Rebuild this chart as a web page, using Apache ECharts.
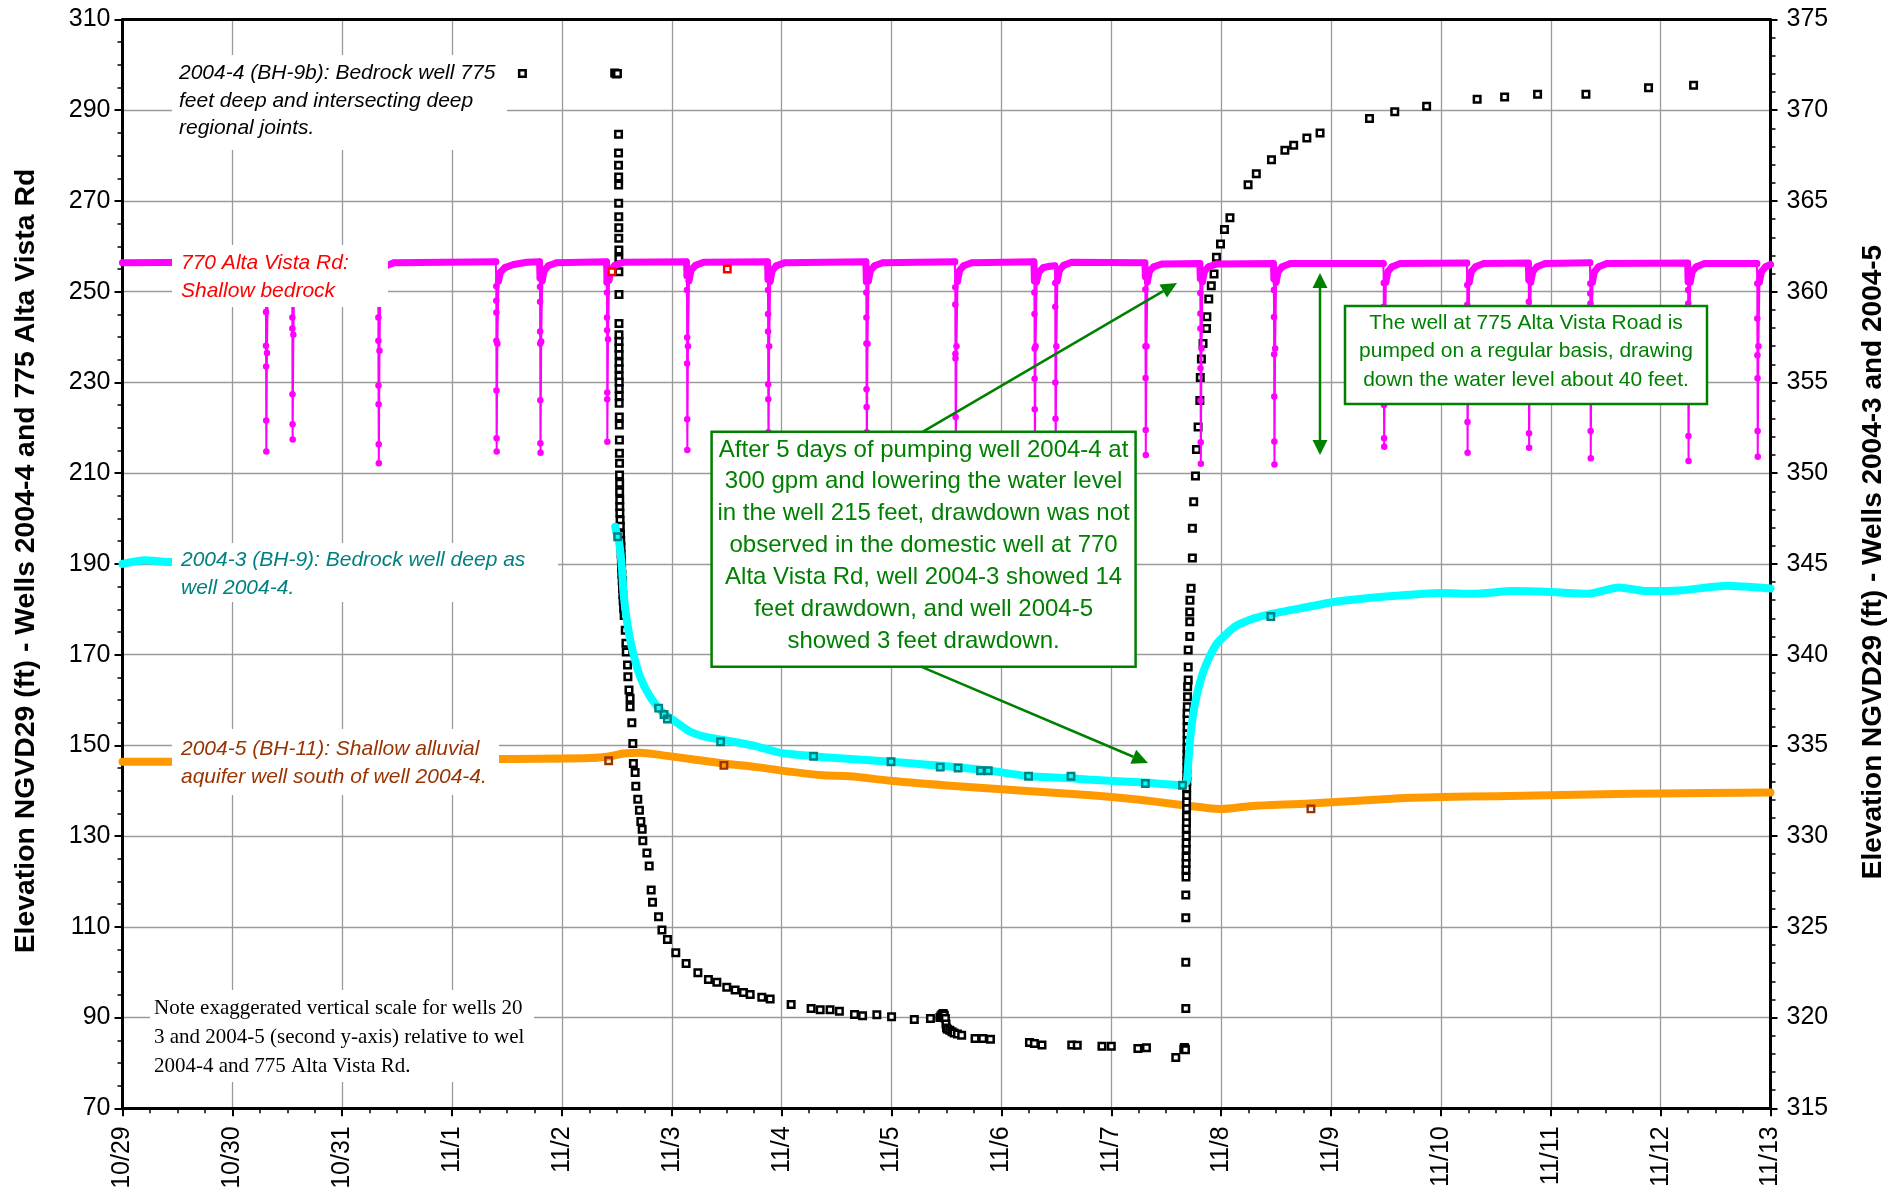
<!DOCTYPE html>
<html>
<head>
<meta charset="utf-8">
<script src="https://cdn.jsdelivr.net/npm/echarts@6/dist/echarts.min.js"></script>
<style>
html,body{margin:0;padding:0;background:#fff;}
#chart{width:1902px;height:1194px;}
</style>
</head>
<body>
<div id="chart"></div>
<script>
// Day labels along the bottom axis (x values are days after 10/29 00:00)
const dateLabels = ['10/29','10/30','10/31','11/1','11/2','11/3','11/4','11/5','11/6','11/7','11/8','11/9','11/10','11/11','11/12','11/13'];

// 2004-4 (BH-9b) water level, ft (left axis)
const well2004_4 = [
  [3.640, 298.1],
  [4.480, 298.2], [4.495, 298.0], [4.505, 298.1],
  [4.515, 284.7], [4.515, 280.6], [4.515, 277.9], [4.516, 275.3], [4.516, 273.5], [4.516, 269.5],
  [4.517, 266.5], [4.517, 264.1], [4.517, 261.8], [4.518, 259.2], [4.518, 257.3], [4.518, 254.4],
  [4.519, 249.4], [4.519, 243.0],
  [4.519, 240.5], [4.519, 239.0], [4.519, 237.6], [4.520, 236.1], [4.520, 234.4], [4.520, 233.0],
  [4.520, 231.4], [4.521, 230.1], [4.521, 228.6], [4.521, 227.0], [4.521, 225.4],
  [4.522, 222.4], [4.522, 220.6], [4.523, 217.3], [4.523, 214.4], [4.524, 212.2], [4.524, 209.6],
  [4.525, 207.8], [4.525, 205.9], [4.526, 204.1], [4.526, 202.6],
  [4.527, 201.2], [4.529, 199.6], [4.531, 198.3], [4.533, 196.6], [4.535, 195.1], [4.537, 193.8],
  [4.539, 192.1], [4.541, 190.8], [4.543, 189.1], [4.545, 187.7], [4.548, 186.3], [4.551, 184.6],
  [4.554, 183.2], [4.557, 181.8], [4.561, 180.2], [4.566, 178.6],
  [4.576, 175.4], [4.582, 172.5], [4.585, 170.6], [4.597, 167.7], [4.600, 165.1], [4.610, 162.2],
  [4.620, 160.4], [4.620, 158.5], [4.636, 155.0], [4.645, 150.4], [4.650, 146.0], [4.666, 144.0],
  [4.672, 141.0], [4.690, 138.1], [4.705, 135.7], [4.718, 133.2], [4.730, 131.5], [4.736, 129.0],
  [4.773, 126.3], [4.794, 123.4], [4.812, 118.1], [4.824, 115.4], [4.879, 112.2], [4.910, 109.3],
  [4.960, 107.2], [5.036, 104.3], [5.130, 101.9], [5.237, 99.9], [5.333, 98.4], [5.410, 97.8],
  [5.500, 96.7], [5.576, 96.1], [5.652, 95.5], [5.713, 95.1], [5.819, 94.5], [5.895, 94.1],
  [6.086, 92.9], [6.268, 92.0], [6.350, 91.7], [6.440, 91.7], [6.525, 91.4], [6.663, 90.7],
  [6.736, 90.4], [6.866, 90.6], [7.000, 90.2], [7.207, 89.6], [7.354, 89.8],
  [7.440, 90.0], [7.450, 90.4], [7.460, 90.7], [7.470, 90.9], [7.480, 90.5], [7.490, 89.8],
  [7.495, 88.6], [7.500, 87.7], [7.510, 87.4], [7.530, 87.2], [7.550, 86.9], [7.570, 86.6],
  [7.600, 86.4], [7.638, 86.1], [7.760, 85.4], [7.830, 85.4], [7.900, 85.2],
  [8.255, 84.5], [8.300, 84.3], [8.369, 83.95], [8.640, 83.95], [8.690, 83.9], [8.915, 83.7],
  [9.000, 83.7], [9.242, 83.2], [9.320, 83.35], [9.587, 81.2],
  [9.660, 83.0], [9.665, 83.4], [9.670, 83.1], [9.675, 82.9],
  [9.678, 92.0], [9.678, 102.2], [9.678, 112.0], [9.678, 117.0],
  [9.680, 121.0], [9.680, 122.6], [9.681, 124.0], [9.681, 125.4], [9.682, 127.1], [9.682, 128.5],
  [9.683, 130.0], [9.683, 131.6], [9.684, 133.0], [9.684, 134.4], [9.685, 136.1], [9.685, 137.5],
  [9.686, 139.0], [9.686, 140.6], [9.687, 142.0], [9.687, 143.4], [9.688, 145.0], [9.688, 146.6],
  [9.689, 148.0], [9.689, 149.4], [9.690, 151.0], [9.690, 152.5], [9.690, 154.0],
  [9.690, 155.6], [9.690, 157.05], [9.692, 158.5], [9.694, 160.7], [9.695, 162.9], [9.700, 164.4],
  [9.700, 167.3], [9.700, 171.0], [9.714, 174.0], [9.714, 177.25], [9.714, 179.4], [9.716, 182.0],
  [9.726, 184.65], [9.738, 191.3], [9.738, 197.85], [9.750, 203.7], [9.766, 209.35], [9.775, 215.2],
  [9.790, 220.2], [9.806, 226.0], [9.810, 231.1], [9.820, 235.15], [9.835, 238.6], [9.866, 241.9],
  [9.870, 244.5], [9.887, 248.4], [9.910, 251.3], [9.935, 253.9], [9.957, 257.6], [9.994, 260.5],
  [10.030, 263.7], [10.080, 266.3], [10.245, 273.6], [10.320, 276.0], [10.458, 279.1], [10.580, 281.2],
  [10.660, 282.3], [10.780, 283.9], [10.900, 285.0], [11.350, 288.2], [11.580, 289.65], [11.870, 290.9],
  [12.330, 292.4], [12.580, 292.9], [12.880, 293.5], [13.320, 293.5], [13.890, 294.95], [14.300, 295.5]
];

// 770 Alta Vista Rd domestic well, ft (left axis)
const well770 = [
  [0.000, 256.4], [0.700, 256.5], [1.302, 256.5],
  [1.306, 245.5], [1.306, 238.1], [1.307, 233.5], [1.308, 221.6], [1.309, 214.8], [1.315, 236.5], [1.324, 252.5], [1.340, 254.7], [1.375, 255.7], [1.440, 256.3],
  [1.542, 256.5],
  [1.546, 244.3], [1.546, 241.9], [1.547, 227.4], [1.548, 220.8], [1.549, 217.4], [1.555, 240.5], [1.564, 252.6], [1.580, 254.8], [1.615, 255.8], [1.690, 256.3],
  [2.325, 256.5],
  [2.329, 244.3], [2.329, 239.2], [2.330, 229.3], [2.331, 225.2], [2.332, 216.4], [2.333, 212.2], [2.339, 237.0], [2.348, 252.4], [2.364, 254.6], [2.400, 255.7], [2.470, 256.4],
  [3.398, 256.6],
  [3.402, 251.2], [3.402, 248.0], [3.403, 245.4], [3.403, 239.2], [3.404, 228.2], [3.405, 217.7], [3.406, 214.8], [3.412, 238.5], [3.422, 252.3], [3.440, 254.3], [3.480, 255.3], [3.560, 256.0], [3.680, 256.5],
  [3.796, 256.6],
  [3.800, 253.0], [3.800, 251.1], [3.801, 247.8], [3.801, 241.2], [3.802, 238.6], [3.803, 226.1], [3.804, 216.6], [3.805, 214.5], [3.811, 239.0], [3.820, 252.4], [3.838, 254.6], [3.875, 255.7], [3.950, 256.4],
  [4.405, 256.6],
  [4.409, 254.4], [4.409, 252.1], [4.410, 249.8], [4.410, 244.3], [4.411, 241.5], [4.412, 227.8], [4.412, 226.3], [4.413, 216.9], [4.419, 239.5], [4.428, 252.5], [4.445, 254.8], [4.480, 255.8], [4.560, 256.5],
  [5.133, 256.6],
  [5.137, 254.8], [5.137, 253.5], [5.138, 250.4], [5.139, 239.9], [5.139, 234.2], [5.140, 221.9], [5.141, 215.1], [5.147, 238.0], [5.156, 252.4], [5.175, 254.7], [5.215, 255.8], [5.290, 256.5],
  [5.871, 256.6],
  [5.875, 252.7], [5.875, 250.4], [5.876, 245.1], [5.876, 241.2], [5.877, 229.6], [5.878, 226.3], [5.879, 219.0], [5.880, 214.0], [5.886, 238.0], [5.895, 252.3], [5.913, 254.6], [5.950, 255.7], [6.030, 256.4],
  [6.766, 256.6],
  [6.770, 252.2], [6.770, 249.8], [6.771, 244.3], [6.771, 238.6], [6.772, 228.5], [6.773, 224.6], [6.774, 219.0], [6.775, 214.0], [6.781, 238.5], [6.790, 252.4], [6.808, 254.7], [6.845, 255.7], [6.920, 256.4],
  [7.576, 256.6],
  [7.580, 251.0], [7.580, 247.2], [7.581, 236.3], [7.582, 235.3], [7.583, 222.4], [7.585, 214.5], [7.591, 238.0], [7.600, 252.3], [7.618, 254.6], [7.655, 255.7], [7.730, 256.4],
  [8.296, 256.6],
  [8.300, 252.4], [8.300, 249.8], [8.301, 245.1], [8.302, 237.5], [8.302, 230.8], [8.303, 224.1], [8.305, 214.5], [8.311, 238.0], [8.320, 252.2], [8.340, 254.3], [8.380, 255.3], [8.440, 255.6],
  [8.486, 255.7],
  [8.490, 251.9], [8.490, 246.7], [8.491, 230.0], [8.492, 222.0], [8.494, 215.0], [8.500, 238.0], [8.509, 252.4], [8.527, 254.7], [8.565, 255.8], [8.640, 256.5],
  [9.306, 256.4],
  [9.310, 253.3], [9.310, 250.5], [9.311, 238.0], [9.312, 231.0], [9.313, 219.5], [9.314, 214.0], [9.320, 238.0], [9.329, 252.2], [9.347, 254.5], [9.385, 255.5], [9.460, 256.1],
  [9.806, 256.2],
  [9.810, 252.9], [9.810, 249.7], [9.811, 245.2], [9.811, 241.9], [9.812, 233.1], [9.813, 226.0], [9.814, 216.8], [9.815, 212.1], [9.821, 237.5], [9.830, 252.2], [9.848, 254.5], [9.885, 255.5], [9.960, 256.1],
  [10.476, 256.2],
  [10.480, 252.8], [10.480, 250.4], [10.481, 244.4], [10.482, 236.2], [10.483, 226.9], [10.484, 217.0], [10.485, 211.9], [10.491, 237.5], [10.500, 252.1], [10.518, 254.4], [10.555, 255.5], [10.630, 256.2],
  [11.476, 256.2],
  [11.480, 251.9], [11.480, 246.7], [11.481, 236.0], [11.482, 225.0], [11.483, 217.7], [11.484, 215.8], [11.490, 238.0], [11.499, 252.1], [11.517, 254.4], [11.555, 255.5], [11.630, 256.2],
  [12.236, 256.3],
  [12.240, 251.5], [12.240, 247.1], [12.241, 235.0], [12.242, 221.3], [12.243, 214.5], [12.249, 238.0], [12.258, 252.1], [12.276, 254.4], [12.315, 255.5], [12.390, 256.2],
  [12.796, 256.3],
  [12.800, 252.6], [12.800, 247.8], [12.801, 236.0], [12.802, 218.8], [12.803, 215.6], [12.809, 238.0], [12.818, 252.1], [12.836, 254.4], [12.875, 255.5], [12.950, 256.2],
  [13.356, 256.4],
  [13.360, 251.8], [13.360, 249.6], [13.361, 247.4], [13.362, 233.0], [13.363, 219.3], [13.364, 213.3], [13.370, 238.0], [13.379, 252.1], [13.397, 254.4], [13.435, 255.5], [13.510, 256.2],
  [14.246, 256.3],
  [14.250, 252.2], [14.250, 250.4], [14.251, 247.4], [14.252, 233.0], [14.253, 218.2], [14.254, 212.7], [14.260, 238.0], [14.269, 252.1], [14.287, 254.4], [14.325, 255.5], [14.400, 256.2],
  [14.876, 256.2],
  [14.880, 251.8], [14.880, 244.1], [14.881, 236.0], [14.882, 230.9], [14.883, 219.3], [14.884, 213.6], [14.890, 238.0], [14.899, 252.1], [14.917, 254.4], [14.955, 255.5], [15.000, 256.0]
];

// 770 Alta Vista Rd hand measurements, ft (left axis)
const well770Manual = [[4.454, 254.4], [5.505, 255.0]];

// 2004-3 (BH-9) transducer record, ft (right axis)
const well2004_3 = [
  [0.000, 345.0], [0.200, 345.2], [0.450, 345.1], [1.500, 345.1], [1.510, null],
  [4.485, 347.05], [4.500, 346.6], [4.520, 346.2], [4.545, 344.85], [4.560, 343.4], [4.590, 341.9],
  [4.636, 340.4], [4.710, 338.8], [4.800, 337.7], [4.910, 336.85], [5.046, 336.25], [5.167, 335.75],
  [5.320, 335.45], [5.560, 335.2], [5.770, 334.95], [5.980, 334.6], [6.200, 334.45], [6.380, 334.35],
  [6.620, 334.25], [6.990, 334.1], [7.300, 333.95], [7.600, 333.8], [7.900, 333.6], [8.250, 333.3],
  [8.600, 333.2], [8.820, 333.1], [9.300, 332.95], [9.648, 332.8], [9.685, 333.0], [9.700, 334.0],
  [9.714, 335.1], [9.735, 336.3], [9.760, 337.25], [9.800, 338.3], [9.840, 339.1], [9.900, 339.95],
  [9.960, 340.6], [10.050, 341.15], [10.140, 341.6], [10.300, 342.0], [10.458, 342.25], [10.810, 342.65],
  [11.024, 342.9], [11.500, 343.2], [12.000, 343.4], [12.300, 343.35], [12.650, 343.5], [13.000, 343.45],
  [13.340, 343.35], [13.620, 343.7], [13.870, 343.5], [14.200, 343.55], [14.600, 343.8], [15.000, 343.65]
];

// 2004-3 hand measurements, ft (right axis)
const well2004_3Manual = [
  [4.507, 346.5], [4.880, 337.05], [4.929, 336.7], [4.960, 336.45], [5.444, 335.2], [6.290, 334.4],
  [6.995, 334.1], [7.443, 333.8], [7.605, 333.75], [7.810, 333.6], [7.880, 333.6], [8.247, 333.3],
  [8.633, 333.3], [9.310, 332.9], [9.648, 332.8], [10.452, 342.1]
];

// 2004-5 (BH-11) transducer record, ft (right axis)
const well2004_5 = [
  [0.000, 334.1], [0.450, 334.1], [1.500, 334.2], [3.430, 334.25], [4.257, 334.3], [4.440, 334.4],
  [4.560, 334.55], [4.710, 334.6], [4.920, 334.45], [5.167, 334.25], [5.470, 334.0], [5.770, 333.8],
  [6.077, 333.55], [6.380, 333.35], [6.620, 333.3], [6.990, 333.05], [7.600, 332.75], [8.200, 332.5],
  [8.815, 332.25], [9.100, 332.1], [9.400, 331.9], [9.660, 331.7], [9.870, 331.55],
  [10.000, 331.5], [10.260, 331.65], [10.810, 331.8], [11.520, 332.05], [12.000, 332.15], [12.500, 332.2],
  [13.470, 332.3], [14.000, 332.35], [15.000, 332.4]
];

// 2004-5 hand measurements, ft (right axis)
const well2004_5Manual = [[4.425, 334.15], [5.474, 333.9], [10.817, 331.5]];

const SANS = '"Liberation Sans", Arial, Helvetica, sans-serif';
const SERIF = '"Liberation Serif", "Times New Roman", serif';
const GREEN = '#008000';

// thick level band of the 770 record: only the near-static readings
const well770Band = well770.map(p => [p[0], p[1] >= 252 ? p[1] : null]);

function arrowHead(tx, ty, fx, fy, len, half) {
  const dx = tx - fx, dy = ty - fy, d = Math.sqrt(dx * dx + dy * dy);
  const ux = dx / d, uy = dy / d;
  const bx = tx - ux * len, by = ty - uy * len;
  return { base: [bx, by], pts: [[tx, ty], [bx - uy * half, by + ux * half], [bx + uy * half, by - ux * half]] };
}

function arrow(fx, fy, tx, ty) {
  const h = arrowHead(tx, ty, fx, fy, 16, 7.5);
  return [
    { type: 'line', z: 120, shape: { x1: fx, y1: fy, x2: h.base[0], y2: h.base[1] }, style: { stroke: GREEN, lineWidth: 2.5 } },
    { type: 'polygon', z: 120, shape: { points: h.pts }, style: { fill: GREEN } }
  ];
}

function doubleArrow(x, y1, y2) {
  const top = arrowHead(x, y1, x, y2, 15, 7.5);
  const bot = arrowHead(x, y2, x, y1, 15, 7.5);
  return [
    { type: 'line', z: 120, shape: { x1: x, y1: top.base[1], x2: x, y2: bot.base[1] }, style: { stroke: GREEN, lineWidth: 2.5 } },
    { type: 'polygon', z: 120, shape: { points: top.pts }, style: { fill: GREEN } },
    { type: 'polygon', z: 120, shape: { points: bot.pts }, style: { fill: GREEN } }
  ];
}

function box(x, y, w, h, stroke) {
  return { type: 'rect', z: 100, shape: { x: x, y: y, width: w, height: h },
    style: { fill: '#fff', stroke: stroke || null, lineWidth: stroke ? 2.5 : 0 } };
}

function label(x, y, text, font, fill, lineHeight, align) {
  return { type: 'text', z: 110, x: x, y: y,
    style: { text: text, font: font, fill: fill, lineHeight: lineHeight,
      align: align || 'left', verticalAlign: 'top', textAlign: align || 'left', textVerticalAlign: 'top' } };
}

const chart = echarts.init(document.getElementById('chart'), null, { renderer: 'canvas' });

const axisLineStyle = { color: '#000', width: 3 };
const gridLineStyle = { color: '#9a9a9a', width: 1.3 };
const tickFont = { fontFamily: SANS, fontSize: 25, color: '#000' };

const graphics = [].concat(
  [
    box(172, 55, 335, 95),
    label(179, 59.5, '2004-4 (BH-9b): Bedrock well 775\nfeet deep and intersecting deep\nregional joints.', 'italic 21px ' + SANS, '#000', 27.5),
    box(172, 245, 216, 62),
    label(181, 249.5, '770 Alta Vista Rd:\nShallow bedrock', 'italic 21px ' + SANS, '#FF0000', 27.5),
    box(172, 543, 386, 59),
    label(181, 546, '2004-3 (BH-9): Bedrock well deep as\nwell 2004-4.', 'italic 21px ' + SANS, '#008080', 28.3),
    box(172, 729, 327, 66),
    label(181, 735.6, '2004-5 (BH-11): Shallow alluvial\naquifer well south of well 2004-4.', 'italic 21px ' + SANS, '#993300', 27.4),
    box(150, 990, 384, 92),
    label(154, 993.8, 'Note exaggerated vertical scale for wells 20\n3 and 2004-5 (second y-axis) relative to wel\n2004-4 and 775 Alta Vista Rd.', '21px ' + SERIF, '#000', 29.2),
    box(711.6, 431.7, 424, 235, GREEN),
    label(923.6, 434, 'After 5 days of pumping well 2004-4 at\n300 gpm and lowering the water level\nin the well 215 feet, drawdown was not\nobserved in the domestic well at 770\nAlta Vista Rd, well 2004-3 showed 14\nfeet drawdown, and well 2004-5\nshowed 3 feet drawdown.', '24px ' + SANS, GREEN, 31.9, 'center'),
    box(1345, 306, 362, 98, GREEN),
    label(1526, 309.1, 'The well at 775 Alta Vista Road is\npumped on a regular basis, drawing\ndown the water level about 40 feet.', '21px ' + SANS, GREEN, 28.4, 'center'),
    { type: 'text', z: 110, x: 26, y: 561, rotation: Math.PI / 2,
      style: { text: 'Elevation NGVD29 (ft) - Wells 2004-4 and 775 Alta Vista Rd', font: 'bold 28.4px ' + SANS, fill: '#000',
        align: 'center', verticalAlign: 'middle', textAlign: 'center', textVerticalAlign: 'middle' } },
    { type: 'text', z: 110, x: 1873, y: 562, rotation: Math.PI / 2,
      style: { text: 'Elevation NGVD29 (ft) - Wells 2004-3 and 2004-5', font: 'bold 28px ' + SANS, fill: '#000',
        align: 'center', verticalAlign: 'middle', textAlign: 'center', textVerticalAlign: 'middle' } }
  ],
  arrow(923, 431.7, 1177, 283),
  arrow(921, 666.7, 1148, 763),
  doubleArrow(1320, 273, 455)
);

chart.setOption({
  animation: false,
  backgroundColor: '#fff',
  grid: { left: 122.5, right: 131.5, top: 19.5, bottom: 85.7, containLabel: false, outerBoundsMode: 'none' },
  xAxis: [
    {
      type: 'value', min: 0, max: 15, interval: 1, position: 'bottom',
      axisLine: { show: true, onZero: false, lineStyle: axisLineStyle },
      axisTick: { show: true, length: 8, lineStyle: { color: '#000', width: 2 } },
      minorTick: { show: true, splitNumber: 4, length: 5, lineStyle: { color: '#000', width: 1.5 } },
      axisLabel: Object.assign({ rotate: 90, margin: 18, interval: 0, showMinLabel: true, showMaxLabel: true,
        formatter: v => dateLabels[Math.round(v)] }, tickFont),
      splitLine: { show: true, lineStyle: gridLineStyle }
    },
    {
      type: 'value', min: 0, max: 15, position: 'top',
      axisLine: { show: true, onZero: false, lineStyle: axisLineStyle },
      axisTick: { show: false }, axisLabel: { show: false }, splitLine: { show: false }
    }
  ],
  yAxis: [
    {
      type: 'value', min: 70, max: 310, interval: 20, position: 'left',
      axisLine: { show: true, onZero: false, lineStyle: axisLineStyle },
      axisTick: { show: true, length: 8, lineStyle: { color: '#000', width: 2 } },
      minorTick: { show: true, splitNumber: 4, length: 5, lineStyle: { color: '#000', width: 1.5 } },
      axisLabel: Object.assign({ margin: 12, showMinLabel: true, showMaxLabel: true }, tickFont),
      splitLine: { show: true, lineStyle: gridLineStyle }
    },
    {
      type: 'value', min: 315, max: 375, interval: 5, position: 'right',
      axisLine: { show: true, onZero: false, lineStyle: axisLineStyle },
      axisTick: { show: true, length: 7, lineStyle: { color: '#000', width: 2 } },
      minorTick: { show: true, splitNumber: 5, length: 5, lineStyle: { color: '#000', width: 1.5 } },
      axisLabel: Object.assign({ margin: 16, showMinLabel: true, showMaxLabel: true }, tickFont),
      splitLine: { show: false }
    }
  ],
  graphic: { elements: graphics },
  series: [
    {
      name: '2004-5 (BH-11)', type: 'line', xAxisIndex: 0, yAxisIndex: 1, z: 2,
      data: well2004_5, showSymbol: false, smooth: 0.3,
      lineStyle: { color: '#FF9900', width: 8, cap: 'round', join: 'round' }
    },
    {
      name: '2004-4 (BH-9b)', type: 'scatter', xAxisIndex: 0, yAxisIndex: 0, z: 3,
      data: well2004_4, symbol: 'rect', symbolSize: 6.5,
      itemStyle: { color: '#fff', borderColor: '#000', borderWidth: 2.5, opacity: 1 }
    },
    {
      name: '2004-3 (BH-9)', type: 'line', xAxisIndex: 0, yAxisIndex: 1, z: 4,
      data: well2004_3, showSymbol: false, smooth: 0.2, connectNulls: false,
      lineStyle: { color: '#00FFFF', width: 8, cap: 'round', join: 'round' }
    },
    {
      name: '2004-3 manual', type: 'scatter', xAxisIndex: 0, yAxisIndex: 1, z: 5,
      data: well2004_3Manual, symbol: 'rect', symbolSize: 6.5,
      itemStyle: { color: 'rgba(0,0,0,0)', borderColor: '#008080', borderWidth: 2.4, opacity: 1 }
    },
    {
      name: '2004-5 manual', type: 'scatter', xAxisIndex: 0, yAxisIndex: 1, z: 5,
      data: well2004_5Manual, symbol: 'rect', symbolSize: 6.5,
      itemStyle: { color: 'rgba(0,0,0,0)', borderColor: '#993300', borderWidth: 2.4, opacity: 1 }
    },
    {
      name: '770 level', type: 'line', xAxisIndex: 0, yAxisIndex: 0, z: 6,
      data: well770Band, showSymbol: false, connectNulls: false,
      lineStyle: { color: '#FF00FF', width: 7, cap: 'round', join: 'round' }
    },
    {
      name: '770 Alta Vista Rd', type: 'line', xAxisIndex: 0, yAxisIndex: 0, z: 6,
      data: well770, showSymbol: true, showAllSymbol: true, symbol: 'circle', symbolSize: 6.5,
      lineStyle: { color: '#FF00FF', width: 2 },
      itemStyle: { color: '#FF00FF', borderColor: '#FF00FF', borderWidth: 0 }
    },
    {
      name: '770 manual', type: 'scatter', xAxisIndex: 0, yAxisIndex: 0, z: 7,
      data: well770Manual, symbol: 'rect', symbolSize: 6.5,
      itemStyle: { color: '#fff', borderColor: '#FF0000', borderWidth: 2.4, opacity: 1 }
    }
  ]
});
</script>
</body>
</html>
